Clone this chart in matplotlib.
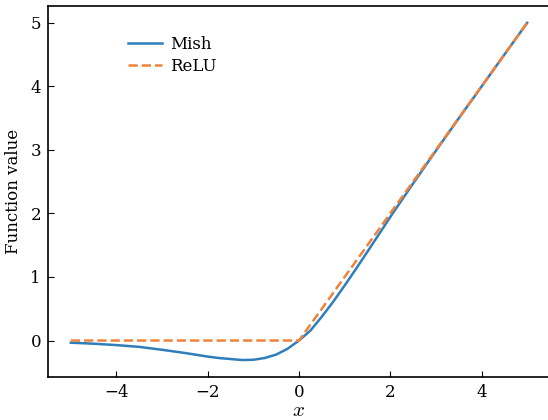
import numpy as np
import matplotlib.pyplot as plt

plt.rcParams['font.family'] = ['DejaVu Serif']
plt.rcParams['mathtext.fontset'] = 'cm'

# values
x_vals = [-5.0, -4.5, -4.0, -3.5, -3.0, -2.5, -2.0, -1.75, -1.5, -1.25, -1.0,
          -0.75, -0.5, -0.25, 0.0, 0.25, 0.5, 0.75, 1.0, 1.25, 1.5, 1.75,
          2.0, 2.5, 3.0, 3.5, 4.0, 4.5, 5.0]
mish_vals = [-0.034, -0.050, -0.072, -0.100, -0.146, -0.196, -0.253, -0.276,
             -0.291, -0.307, -0.303, -0.275, -0.221, -0.130, 0.0, 0.156,
             0.375, 0.611, 0.865, 1.128, 1.398, 1.670, 1.944, 2.471, 2.987,
             3.496, 3.997, 4.499, 5.000]
relu_x = [-5.0, 0.0, 5.0]
relu_vals = [0.0, 0.0, 5.0]

fig = plt.figure(figsize=(5.48, 4.2), dpi=100)
ax = fig.add_axes([0.0876, 0.1024, 0.916, 0.8833])

ax.plot(x_vals, mish_vals, color='#2e7ebc', lw=1.8, label='Mish')
ax.plot(relu_x, relu_vals, color='#f0823a', lw=1.8, ls='--', label='ReLU')

ax.set_xlim(-5.5, 5.5)
ax.set_ylim(-0.574, 5.265)
ax.set_xticks([-4, -2, 0, 2, 4])
ax.set_yticks([0, 1, 2, 3, 4, 5])
ax.tick_params(direction='in', labelsize=12, length=4, pad=5)
for s in ax.spines.values():
    s.set_linewidth(1.2)
ax.spines['right'].set_color('#999999')

ax.set_xlabel('$x$', fontsize=15, labelpad=0)
ax.set_ylabel('Function value', fontsize=12, labelpad=6)

ax.legend(loc='upper left', bbox_to_anchor=(0.13, 0.96), frameon=False,
          fontsize=12, handlelength=2.0, handletextpad=0.5, labelspacing=0.3)

fig.savefig('out.png', dpi=100)
